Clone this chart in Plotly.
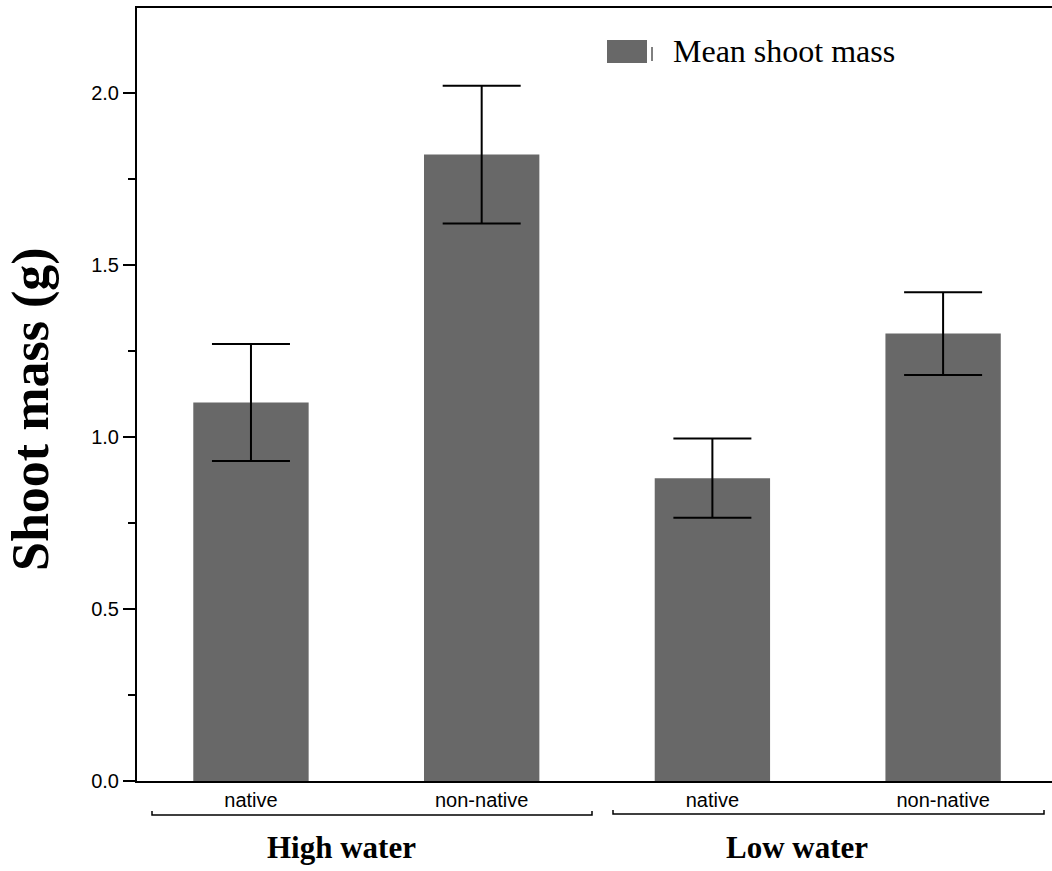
import plotly.graph_objects as go

# Data: mean shoot mass with error bars, grouped by water treatment
categories = ["native", "non-native", "native ", "non-native "]
tick_labels = ["native", "non-native", "native", "non-native"]
group_labels = ["High water", "Low water"]
mean_mass = [1.10, 1.82, 0.88, 1.30]
mass_err = [0.17, 0.20, 0.115, 0.12]

W, H = 1052, 871
ML, MR, MT, MB = 137, 0, 8, 90
PW, PH = W - ML - MR, H - MT - MB


def px(x):
    return (x - ML) / PW


def py(y):
    return (H - MB - y) / PH


BAR_COLOR = "#686868"
SERIF = "Liberation Serif, Times New Roman, serif"
SANS = "Liberation Sans, Arial, Helvetica, sans-serif"

fig = go.Figure()
fig.add_trace(go.Bar(
    x=list(range(len(categories))),
    y=mean_mass,
    width=0.5,
    marker=dict(color=BAR_COLOR, line=dict(width=0)),
    error_y=dict(type="data", array=mass_err, visible=True,
                 color="black", thickness=2, width=39),
    name="Mean shoot mass",
    showlegend=False,
))

shapes = []
# legend swatch with its error-bar stub
shapes.append(dict(type="rect", xref="paper", yref="paper",
                   x0=px(607), x1=px(647), y0=py(63), y1=py(40),
                   fillcolor=BAR_COLOR, line=dict(width=0)))
shapes.append(dict(type="line", xref="paper", yref="paper",
                   x0=px(652), x1=px(652), y0=py(61), y1=py(47),
                   line=dict(color="black", width=1)))
# group brackets under the category labels
for x0, x1, yb in [(152, 592, 815), (613, 1044, 814)]:
    shapes.append(dict(
        type="path", xref="paper", yref="paper",
        path=f"M {px(x0)},{py(yb - 4)} L {px(x0)},{py(yb)} L {px(x1)},{py(yb)} L {px(x1)},{py(yb - 4)}",
        line=dict(color="black", width=1.5)))

annotations = [
    dict(text="Mean shoot mass", xref="paper", yref="paper",
         x=px(671), y=py(51), xanchor="left", yanchor="middle",
         showarrow=False, font=dict(family=SERIF, size=32, color="black")),
    dict(text="<b>Shoot mass (g)</b>", xref="paper", yref="paper",
         x=px(31), y=py(409), xanchor="center", yanchor="middle",
         textangle=-90, showarrow=False,
         font=dict(family=SERIF, size=52, color="black")),
]
for label, cx in zip(group_labels, [341.5, 796.5]):
    annotations.append(dict(
        text=f"<b>{label}</b>", xref="paper", yref="paper",
        x=px(cx), y=py(847), xanchor="center", yanchor="middle",
        showarrow=False, font=dict(family=SERIF, size=31, color="black")))

fig.update_layout(
    width=W, height=H,
    margin=dict(l=ML, r=MR, t=MT, b=MB, pad=0),
    paper_bgcolor="white", plot_bgcolor="white",
    showlegend=False,
    shapes=shapes,
    annotations=annotations,
    xaxis=dict(
        range=[-0.494, 3.472],
        tickmode="array", tickvals=list(range(len(categories))), ticktext=tick_labels,
        ticks="", showgrid=False, zeroline=False,
        showline=True, linecolor="black", linewidth=2, mirror=True,
        tickfont=dict(family=SANS, size=20, color="black"),
    ),
    yaxis=dict(
        range=[0, 2.246],
        tickmode="linear", tick0=0, dtick=0.5, tickformat=".1f",
        ticks="outside", ticklen=12, tickwidth=2, tickcolor="black",
        minor=dict(ticks="outside", ticklen=7, tickwidth=2, tickcolor="black",
                   dtick=0.25, tick0=0, showgrid=False),
        showgrid=False, zeroline=False,
        showline=True, linecolor="black", linewidth=2, mirror=False,
        tickfont=dict(family=SANS, size=20, color="black"),
    ),
)

fig.write_html("out.html")
